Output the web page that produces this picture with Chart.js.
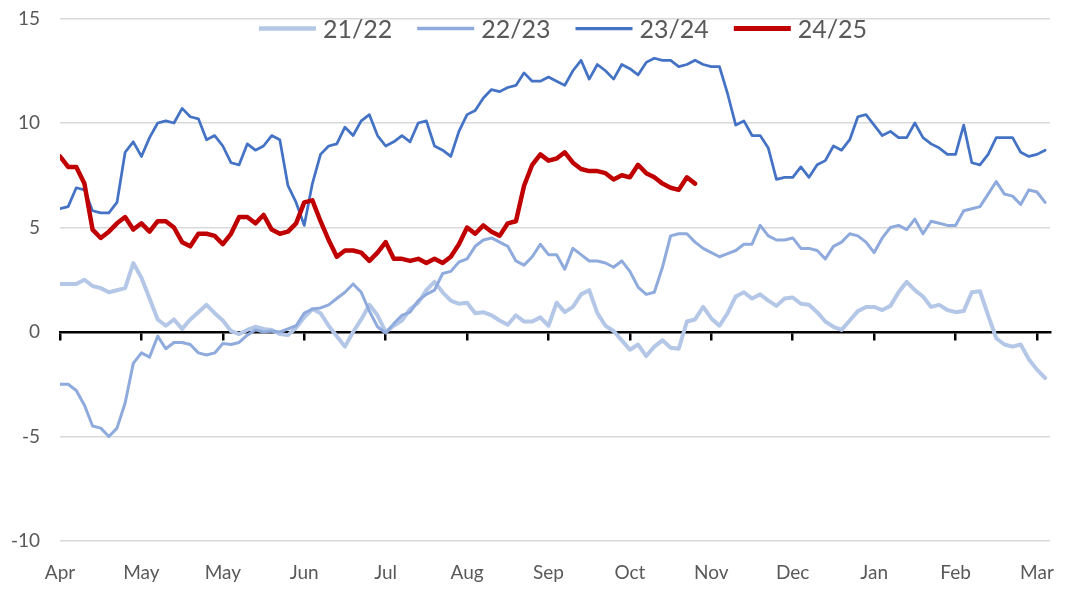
<!DOCTYPE html>
<html>
<head>
<meta charset="utf-8">
<title>Season comparison</title>
<script src="https://cdn.jsdelivr.net/npm/chart.js@4.4.1/dist/chart.umd.min.js"></script>
<style>
  html, body { margin: 0; padding: 0; background: #fff; }
  canvas { display: block; }
</style>
</head>
<body>
<canvas id="chart" width="1067" height="589"></canvas>
<script>
// month labels along the bottom, one every 10 samples
const monthLabels = ["Apr", "May", "May", "Jun", "Jul", "Aug", "Sep", "Oct", "Nov", "Dec", "Jan", "Feb", "Mar"];
const stepsPerMonth = 10;
const xMax = 121.6;

const seriesNames = ["21/22", "22/23", "23/24", "24/25"];

const s2122 = [
  2.3, 2.3, 2.3, 2.5, 2.2, 2.1, 1.9, 2.0, 2.1, 3.3,
  2.6, 1.6, 0.6, 0.3, 0.6, 0.15, 0.6, 0.95, 1.3, 0.9,
  0.55, 0.05, -0.1, 0.1, 0.25, 0.15, 0.1, -0.1, -0.15, 0.2,
  0.7, 1.1, 0.9, 0.3, -0.2, -0.7, 0.0, 0.6, 1.3, 0.8,
  0.0, 0.3, 0.55, 1.1, 1.4, 2.0, 2.4, 1.9, 1.5, 1.35,
  1.4, 0.9, 0.95, 0.8, 0.55, 0.35, 0.8, 0.5, 0.5, 0.7,
  0.3, 1.4, 0.95, 1.2, 1.8, 2.0, 0.9, 0.3, 0.05, -0.4,
  -0.85, -0.6, -1.15, -0.7, -0.4, -0.75, -0.8, 0.5, 0.6, 1.2,
  0.65, 0.3, 0.9, 1.7, 1.9, 1.6, 1.8, 1.5, 1.25, 1.6,
  1.65, 1.35, 1.3, 0.95, 0.5, 0.25, 0.1, 0.55, 1.0, 1.2,
  1.2, 1.05, 1.25, 1.9, 2.4, 2.0, 1.7, 1.2, 1.3, 1.05,
  0.95, 1.0, 1.9, 1.95, 0.8, -0.3, -0.6, -0.7, -0.6, -1.3,
  -1.8, -2.2
];

const s2223 = [
  -2.5, -2.5, -2.8, -3.5, -4.5, -4.6, -5.0, -4.6, -3.4, -1.5,
  -1.0, -1.2, -0.2, -0.8, -0.5, -0.5, -0.6, -1.0, -1.1, -1.0,
  -0.55, -0.6, -0.5, -0.15, 0.1, 0.0, 0.05, 0.0, 0.15, 0.3,
  0.9, 1.1, 1.15, 1.3, 1.6, 1.9, 2.3, 1.9, 1.0, 0.25,
  -0.05, 0.4, 0.8, 0.95, 1.5, 1.8, 2.0, 2.8, 2.9, 3.35,
  3.5, 4.1, 4.4, 4.5, 4.3, 4.1, 3.4, 3.2, 3.6, 4.2,
  3.7, 3.7, 3.0, 4.0, 3.7, 3.4, 3.4, 3.3, 3.1, 3.4,
  2.9, 2.15, 1.8, 1.9, 3.1, 4.6, 4.7, 4.7, 4.3, 4.0,
  3.8, 3.6, 3.75, 3.9, 4.2, 4.2, 5.1, 4.6, 4.4, 4.4,
  4.5, 4.0, 4.0, 3.9, 3.5, 4.1, 4.3, 4.7, 4.6, 4.3,
  3.8, 4.5, 5.0, 5.1, 4.9, 5.4, 4.7, 5.3, 5.2, 5.1,
  5.1, 5.8, 5.9, 6.0, 6.6, 7.2, 6.6, 6.5, 6.1, 6.8,
  6.7, 6.2
];

const s2324 = [
  5.9, 6.0, 6.9, 6.8, 5.8, 5.7, 5.7, 6.2, 8.6, 9.1,
  8.4, 9.3, 10.0, 10.1, 10.0, 10.7, 10.3, 10.2, 9.2, 9.4,
  8.9, 8.1, 8.0, 9.0, 8.7, 8.9, 9.4, 9.2, 7.0, 6.2,
  5.1, 7.1, 8.5, 8.9, 9.0, 9.8, 9.4, 10.1, 10.4, 9.4,
  8.9, 9.1, 9.4, 9.1, 10.0, 10.1, 8.9, 8.7, 8.4, 9.6,
  10.4, 10.6, 11.2, 11.6, 11.5, 11.7, 11.8, 12.4, 12.0, 12.0,
  12.2, 12.0, 11.8, 12.5, 13.0, 12.1, 12.8, 12.5, 12.1, 12.8,
  12.6, 12.3, 12.9, 13.1, 13.0, 13.0, 12.7, 12.8, 13.0, 12.8,
  12.7, 12.7, 11.4, 9.9, 10.1, 9.4, 9.4, 8.8, 7.3, 7.4,
  7.4, 7.9, 7.4, 8.0, 8.2, 8.9, 8.7, 9.2, 10.3, 10.4,
  9.9, 9.4, 9.6, 9.3, 9.3, 10.0, 9.3, 9.0, 8.8, 8.5,
  8.5, 9.9, 8.1, 8.0, 8.5, 9.3, 9.3, 9.3, 8.6, 8.4,
  8.5, 8.7
];

const s2425 = [
  8.4, 7.9, 7.9, 7.1, 4.9, 4.5, 4.8, 5.2, 5.5, 4.9,
  5.2, 4.8, 5.3, 5.3, 5.0, 4.3, 4.1, 4.7, 4.7, 4.6,
  4.2, 4.7, 5.5, 5.5, 5.2, 5.6, 4.9, 4.7, 4.8, 5.2,
  6.2, 6.3, 5.3, 4.4, 3.6, 3.9, 3.9, 3.8, 3.4, 3.8,
  4.3, 3.5, 3.5, 3.4, 3.5, 3.3, 3.5, 3.3, 3.6, 4.2,
  5.0, 4.7, 5.1, 4.8, 4.6, 5.2, 5.3, 7.0, 8.0, 8.5,
  8.2, 8.3, 8.6, 8.1, 7.8, 7.7, 7.7, 7.6, 7.3, 7.5,
  7.4, 8.0, 7.6, 7.4, 7.1, 6.9, 6.8, 7.4, 7.1
];

function toPoints(values) {
  return values.map((v, i) => ({ x: i, y: v }));
}

function monthTicks(scale) {
  scale.ticks = monthLabels.map((m, k) => ({ value: k * stepsPerMonth }));
}

// legend drawn inside the plot, just under the top gridline
const insideLegend = {
  id: "insideLegend",
  afterDraw(chart) {
    const ctx = chart.ctx;
    const area = chart.chartArea;
    const lineLen = 57, gap = 7, spacing = 25;
    ctx.save();
    ctx.font = "25px Lato";
    const widths = chart.data.datasets.map(ds => lineLen + gap + ctx.measureText(ds.label).width);
    const total = widths.reduce((a, b) => a + b, 0) + spacing * (widths.length - 1);
    let x = (area.left + area.right) / 2 + 8 - total / 2;
    const y = area.top + 10;
    chart.data.datasets.forEach((ds, i) => {
      ctx.strokeStyle = ds.borderColor;
      ctx.lineWidth = ds.borderWidth + 0.5;
      ctx.beginPath();
      ctx.moveTo(x, y);
      ctx.lineTo(x + lineLen, y);
      ctx.stroke();
      ctx.fillStyle = "#595959";
      ctx.textBaseline = "middle";
      ctx.fillText(ds.label, x + lineLen + gap, y + 1);
      x += widths[i] + spacing;
    });
    ctx.restore();
  }
};

const ctx = document.getElementById("chart").getContext("2d");

new Chart(ctx, {
  type: "line",
  data: {
    datasets: [
      {
        label: seriesNames[0],
        data: toPoints(s2122),
        borderColor: "#b4c7e7",
        borderWidth: 4,
        order: 3,
      },
      {
        label: seriesNames[1],
        data: toPoints(s2223),
        borderColor: "#8faadc",
        borderWidth: 3,
        order: 2,
      },
      {
        label: seriesNames[2],
        data: toPoints(s2324),
        borderColor: "#4472c4",
        borderWidth: 2.75,
        order: 1,
      },
      {
        label: seriesNames[3],
        data: toPoints(s2425),
        borderColor: "#c00000",
        borderWidth: 4.5,
        order: 0,
      },
    ],
  },
  options: {
    responsive: false,
    animation: false,
    devicePixelRatio: 1,
    layout: { padding: { top: 18.5, right: 17, left: 0, bottom: 0 } },
    elements: {
      point: { radius: 0 },
      line: { tension: 0, borderJoinStyle: "round", borderCapStyle: "round" },
    },
    plugins: {
      legend: { display: false },
      tooltip: { enabled: false },
    },
    scales: {
      x: {
        type: "linear",
        min: 0,
        max: xMax,
        position: "bottom",
        afterBuildTicks: monthTicks,
        afterFit: (scale) => { scale.height = 48; },
        border: { display: false },
        // invisible tick marks used as the gap between plot and labels
        grid: { display: true, drawOnChartArea: false, drawTicks: true, tickLength: 20, tickColor: "rgba(0,0,0,0)" },
        ticks: {
          autoSkip: false,
          maxRotation: 0,
          padding: 0,
          color: "#595959",
          font: { family: "Lato", size: 19 },
          callback: (v) => monthLabels[Math.round(v / stepsPerMonth)],
        },
      },
      zeroAxis: {
        type: "linear",
        axis: "x",
        min: 0,
        max: xMax,
        position: { y: 0 },
        afterBuildTicks: monthTicks,
        afterFit: (scale) => { scale.height = 0; },
        border: { display: true, color: "#000", width: 2.5 },
        grid: { display: true, drawOnChartArea: false, drawTicks: true, tickLength: 7, color: "#000", lineWidth: 2.5 },
        ticks: { display: false },
      },
      y: {
        min: -10,
        max: 15,
        afterFit: (scale) => { scale.width = 60; },
        border: { display: false },
        grid: { color: "#d9d9d9", lineWidth: 1.5, drawTicks: true, tickLength: 20, tickColor: "rgba(0,0,0,0)" },
        ticks: {
          stepSize: 5,
          padding: 0,
          color: "#595959",
          font: { family: "Lato", size: 19 },
        },
      },
    },
  },
  plugins: [insideLegend],
});
</script>
</body>
</html>
